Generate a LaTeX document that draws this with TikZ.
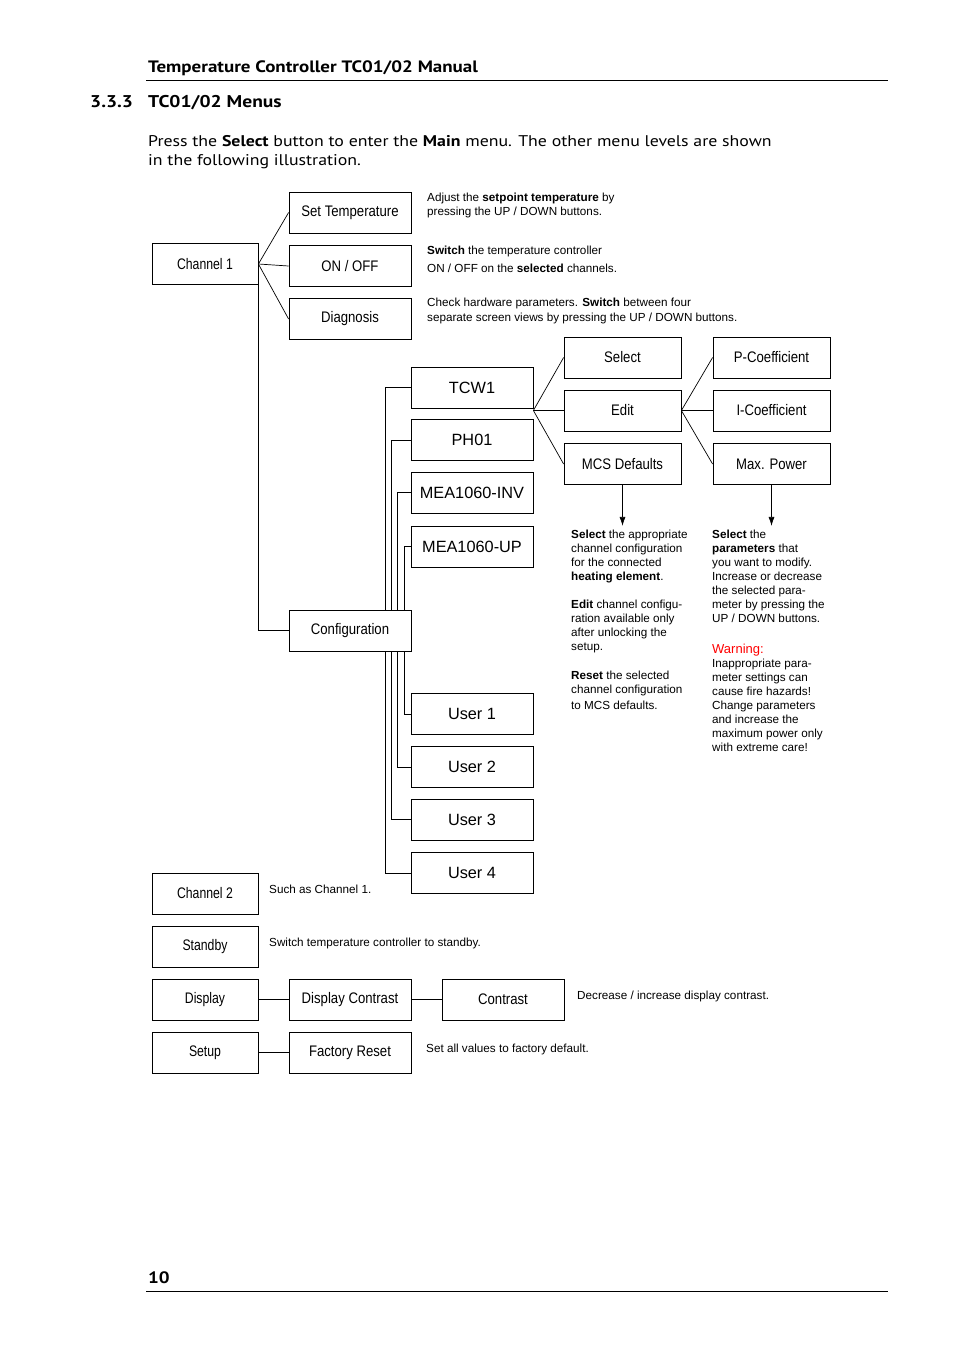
\documentclass[tikz,border=0pt]{standalone}
\usepackage{fontspec}
\setmainfont{Liberation Sans}
\newfontfamily\headfont[FakeStretch=1.15]{PT Sans}
\newfontfamily\narrowfont[FakeStretch=0.86]{Liberation Sans}
\newfontfamily\chanfont[FakeStretch=0.8]{Liberation Sans}
\usetikzlibrary{positioning}
\usetikzlibrary{calc}
\usetikzlibrary{arrows.meta}

\tikzset{
  menu/.style={draw, line width=0.8pt, minimum width=122pt, minimum height=41pt, inner sep=0pt,
    font=\narrowfont\fontsize{15.3}{18}\selectfont},
  chan/.style={menu, minimum width=106pt, font=\chanfont\fontsize{15.3}{18}\selectfont},
  sub/.style={menu, minimum width=117pt},
  plain/.style={font=\fontsize{16.3}{19}\selectfont},
  note/.style={anchor=base west, align=left, inner sep=0pt, font=\fontsize{11.7}{14}\selectfont},
  link/.style={line width=0.7pt},
}

\begin{document}
\begin{tikzpicture}[x=1pt, y=-1pt]
\useasboundingbox (0,0) rectangle (954,1350);

% page head
\node[anchor=base west, inner sep=0pt, font=\headfont\bfseries\fontsize{16.5}{18}\selectfont] (head) at (148,72) {Temperature Controller TC01/02 Manual};
\draw[line width=0.8pt] (146,80) -- (888,80);
\node[anchor=base west, inner sep=0pt, font=\headfont\bfseries\fontsize{17}{20}\selectfont] (secnum) at (90,107) {3.3.3};
\node[anchor=base west, inner sep=0pt, font=\headfont\bfseries\fontsize{17}{20}\selectfont] (sectitle) at (148,107) {TC01/02 Menus};
% base anchor sits on the last line
\node[anchor=base west, align=left, inner sep=0pt, font=\headfont\fontsize{15.5}{19}\selectfont] (intro) at (148,165)
  {Press the \textbf{Select} button to enter the \textbf{Main} menu. The other menu levels are shown\\in the following illustration.};

%%% Channel 1
\node[chan] (ch1) at (205,264) {Channel 1};
\node[menu] (settemp) at (350,212.5) {Set Temperature};
\node[menu] (onoff) at (350,266) {ON / OFF};
\node[menu] (diag) at (350,319) {Diagnosis};
\foreach \n in {settemp, onoff, diag}
  \draw[link] (ch1.east) -- (\n.west);

\node[note] (settempnote) at (427,215) {Adjust the \textbf{setpoint temperature} by\\pressing the UP / DOWN buttons.};
\node[note] (onoffnote) at (427,272) {\textbf{Switch} the temperature controller\\[4pt]ON / OFF on the \textbf{selected} channels.};
\node[note] (diagnote) at (427,321) {Check hardware parameters. \textbf{Switch} between four\\[1pt]separate screen views by pressing the UP / DOWN buttons.};

%%% Configuration
\node[menu] (config) at (350,630.5) {Configuration};
\draw[link] (ch1.east) |- (config.west);

\node[menu, plain] (tcw1) at (472,387.5) {TCW1};
\node[menu, plain] (ph01) at (472,440) {PH01};
\node[menu, plain] (meainv) at (472,492.5) {MEA1060-INV};
\node[menu, plain] (meaup) at (472,546.5) {MEA1060-UP};
\node[menu, plain] (user1) at (472,714) {User 1};
\node[menu, plain] (user2) at (472,767) {User 2};
\node[menu, plain] (user3) at (472,819.5) {User 3};
\node[menu, plain] (user4) at (472,873) {User 4};

\foreach \up/\down/\bx in {tcw1/user4/385, ph01/user3/391, meainv/user2/397, meaup/user1/404} {
  \coordinate (bus) at (\bx,0);
  \draw[link] (\up.west) -| (config.north -| bus);
  \draw[link] (config.south -| bus) |- (\down.west);
}

%%% TCW1 sub menu
\node[sub] (select) at (622.5,357.5) {Select};
\node[sub] (edit) at (622.5,410.5) {Edit};
\node[sub] (mcs) at (622.5,464) {MCS Defaults};
\coordinate (tcwfan) at (tcw1.east |- edit.west);
\foreach \n in {select, edit, mcs}
  \draw[link] (tcwfan) -- (\n.west);

\node[sub] (pcoef) at (771.5,357.5) {P-Coefficient};
\node[sub] (icoef) at (771.5,410.5) {I-Coefficient};
\node[sub] (maxpow) at (771.5,464) {Max. Power};
\foreach \n in {pcoef, icoef, maxpow}
  \draw[link] (edit.east) -- (\n.west);

\coordinate (mcsend) at ($ (mcs.south) + (0,41) $);
\coordinate (maxpowend) at ($ (maxpow.south) + (0,41) $);
\draw[link,-{Latex[length=9pt,width=6pt]}] (mcs.south) -- (mcsend);
\draw[link,-{Latex[length=9pt,width=6pt]}] (maxpow.south) -- (maxpowend);

\node[note] (mcsnotea) at (571,580) {\textbf{Select} the appropriate\\channel configuration\\for the connected\\\textbf{heating element}.};
\node[note] (mcsnoteb) at (571,650) {\textbf{Edit} channel configu-\\ration available only\\after unlocking the\\setup.};
\node[note] (mcsnotec) at (571,709) {\textbf{Reset} the selected\\channel configuration\\[2pt]to MCS defaults.};

\node[note] (maxpownote) at (712,622) {\textbf{Select} the\\\textbf{parameters} that\\you want to modify.\\Increase or decrease\\the selected para-\\meter by pressing the\\UP / DOWN buttons.};
\node[note, red, font=\fontsize{13}{15}\selectfont] (warn) at (712,653) {Warning:};
\node[note] (warnnote) at (712,751) {Inappropriate para-\\meter settings can\\cause fire hazards!\\Change parameters\\and increase the\\maximum power only\\with extreme care!};

%%% other main entries
\node[chan] (ch2) at (205,893.5) {Channel 2};
\node[note] (ch2note) at (269,893) {Such as Channel 1.};
\node[chan] (standby) at (205,946.5) {Standby};
\node[note] (standbynote) at (269,946) {Switch temperature controller to standby.};

\node[chan] (display) at (205,999.5) {Display};
\node[menu] (dispcon) at (350,999.5) {Display Contrast};
\node[menu] (contrast) at (503,999.5) {Contrast};
\draw[link] (display) -- (dispcon);
\draw[link] (dispcon) -- (contrast);
\node[note] (contrastnote) at (577,999) {Decrease / increase display contrast.};

\node[chan] (setup) at (205,1052.5) {Setup};
\node[menu] (facreset) at (350,1052.5) {Factory Reset};
\draw[link] (setup) -- (facreset);
\node[note] (facresetnote) at (426,1052) {Set all values to factory default.};

% page foot
\node[anchor=base west, inner sep=0pt, font=\headfont\bfseries\fontsize{16.5}{18}\selectfont] (pagenum) at (148,1283) {10};
\draw[line width=0.8pt] (146,1291) -- (888,1291);

\end{tikzpicture}
\end{document}
